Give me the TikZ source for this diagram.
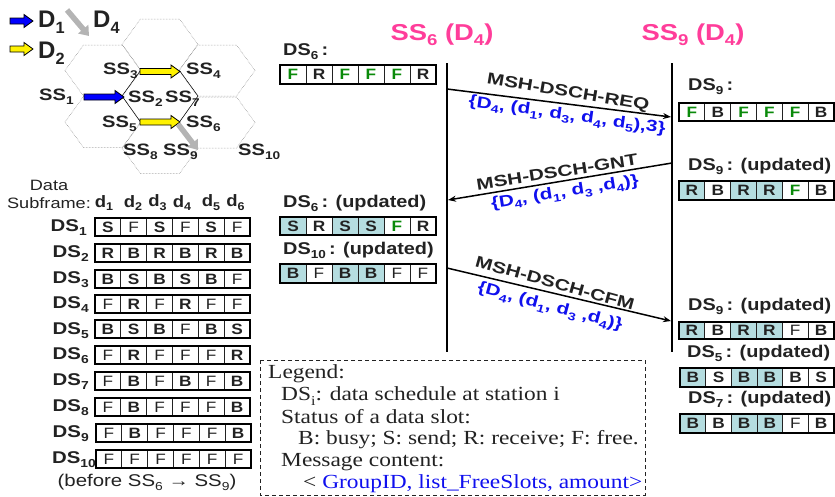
\documentclass[tikz,border=0pt]{standalone}
\usepackage{fontspec}
\setmainfont{Liberation Sans}
\newfontfamily\legendfont{Liberation Serif}
\usetikzlibrary{arrows.meta}
\definecolor{ink}{HTML}{222222}
\definecolor{okgreen}{HTML}{0A8A0A}
\definecolor{hilite}{HTML}{B5DDE0}
\definecolor{pinkhead}{HTML}{FF3D9A}
\definecolor{msgblue}{HTML}{1010EE}
\definecolor{arrowgray}{HTML}{B4B4B4}
\newcommand\dn[1]{\raisebox{-0.45ex}{\scalebox{.68}{#1}}}
\newcommand\fs[1]{\fontsize{#1}{#1}\selectfont}
\newcommand\wcell{\scalebox{1.15}[1]}
\newcommand\wds{\scalebox{1.2}[1]}
\newcommand\wup{\scalebox{1.17}[1]}
\newcommand\wss{\scalebox{1.22}[1]}
\newcommand\wmsg{\scalebox{1.3}[1]}
\newcommand\whead{\scalebox{1.19}[1]}
\newcommand\wcol{\scalebox{1.12}[1]}
\newcommand\wplain{\scalebox{1.21}[1]}
\newcommand\wleg{\scalebox{1.17}[1]}
\tikzset{
  x=1pt,y=-1pt,
  slotbase/.style={draw=ink,line width=.9pt,inner sep=0pt,text=ink},
  slotb/.style={slotbase,font=\fs{15}\bfseries},
  slotn/.style={slotbase,font=\fs{15}},
  slotg/.style={slotbase,font=\fs{15}\bfseries,text=okgreen},
  sloth/.style={slotbase,font=\fs{15}\bfseries,fill=hilite},
  outerbox/.style={draw=black,line width=2.4pt,inner sep=0pt},
  hexline/.style={draw=gray,line width=.5pt,densely dotted},
  hexcore/.style={draw=black,line width=.5pt},
  lifeline/.style={draw=black,line width=2.4pt},
  msg/.style={draw=black,line width=1.5pt,-{Stealth[length=8pt,width=6pt]}},
  msgname/.style={font=\fs{16}\bfseries,text=ink,inner sep=0pt},
  msgdata/.style={font=\fs{16}\bfseries,text=msgblue,inner sep=0pt},
  dslabel/.style={font=\fs{17}\bfseries,text=ink,anchor=west,inner sep=0pt},
  rowlabel/.style={font=\fs{17}\bfseries,text=ink,anchor=east,inner sep=0pt},
  headlabel/.style={font=\fs{23}\bfseries,text=pinkhead,inner sep=0pt},
  sslabel/.style={font=\fs{16.5}\bfseries,text=ink,anchor=west,inner sep=0pt},
  collabel/.style={font=\fs{16.5}\bfseries,text=ink,inner sep=0pt},
  plainlabel/.style={font=\fs{15},text=ink,inner sep=0pt},
  keylabel/.style={font=\fs{24}\bfseries,text=ink,anchor=west,inner sep=0pt},
  legendline/.style={font=\legendfont\fs{20},text=ink,anchor=west,inner sep=0pt},
  graybar/.style={draw=arrowgray,line width=5.5pt,-{Triangle[length=9pt,width=13pt]}},
}
% name, x1, y1, x2, y2, cells
\newcommand\slotrow[6]{%
  \pgfmathsetmacro\cw{(#4-#2)/6}%
  \pgfmathsetmacro\ch{#5-#3}%
  \pgfmathsetmacro\cy{(#3+#5)/2}%
  \foreach \t/\k [count=\i] in {#6}{%
    \pgfmathsetmacro\cx{#2+(\i-.5)*\cw}%
    \node[slot\k,minimum width=\cw pt,minimum height=\ch pt] (#1c\i) at (\cx,\cy) {\wcell{\t}};
  }%
  \pgfmathsetmacro\cxm{(#2+#4)/2}%
  \pgfmathsetmacro\bw{#4-#2}%
  \node[outerbox,minimum width=\bw pt,minimum height=\ch pt] (#1) at (\cxm,\cy) {};
}
% name, x1, x2, y, colour
\newcommand\blockarrow[5]{%
  \pgfmathsetmacro\hx{#3-9}%
  \coordinate (#1) at (#2,#4);
  \draw[black,line width=.8pt,fill=#5] (#1) ++(0,-3) -- (\hx,#4-3) -- (\hx,#4-6.5) -- (#3,#4) -- (\hx,#4+6.5) -- (\hx,#4+3) -- (#2,#4+3) -- cycle;
}
\begin{document}
\begin{tikzpicture}
\useasboundingbox (0,0) rectangle (835,496);
% hexagons
\foreach \n/\cx/\cy in {a/160/44.5,b/103/70.5,c/103/122,d/217/70.5,e/217/122.5,f/160/148}{
  \draw[hexline] (\cx-19.5,\cy-25.5) -- (\cx+19.5,\cy-25.5) -- (\cx+38,\cy) -- (\cx+19.5,\cy+25.5) -- (\cx-19.5,\cy+25.5) -- (\cx-38,\cy) -- cycle;
}
\draw[hexcore] (140.5,70.5) -- (122,96) -- (140.5,122) (179.5,70.5) -- (198,96) -- (179.5,122);
% key arrows
\blockarrow{k1}{10}{33}{21}{blue}
\blockarrow{k2}{10}{33}{49}{yellow}
\coordinate (k3a) at (67,10);
\coordinate (k3b) at (89,36);
\draw[graybar] (k3a) -- (k3b);
\node[keylabel] (kd1) at (38,22) {D\dn{1}};
\node[keylabel] (kd4) at (93,22) {D\dn{4}};
\node[keylabel] (kd2) at (38,53) {D\dn{2}};
% hex arrows
\blockarrow{h1}{84}{124}{97}{blue}
\blockarrow{h2}{140}{180}{71.5}{yellow}
\blockarrow{h3}{140}{180}{122}{yellow}
\coordinate (h4a) at (178,124);
\coordinate (h4b) at (198,150);
\draw[graybar] (h4a) -- (h4b);
% station labels
\node[sslabel] (s3) at (103,71) {\wss{SS\dn{3}}};
\node[sslabel] (s4) at (186,71) {\wss{SS\dn{4}}};
\node[sslabel] (s1) at (39,97) {\wss{SS\dn{1}}};
\node[sslabel] (s2) at (128,99) {\wss{SS\dn{2}}};
\node[sslabel] (s7) at (165,99) {\wss{SS\dn{7}}};
\node[sslabel] (s5) at (102,124) {\wss{SS\dn{5}}};
\node[sslabel] (s6) at (186,124) {\wss{SS\dn{6}}};
\node[sslabel] (s8) at (123,152) {\wss{SS\dn{8}}};
\node[sslabel] (s9) at (163,152) {\wss{SS\dn{9}}};
\node[sslabel] (s10) at (238,152) {\wss{SS\dn{10}}};
% column header
\node[plainlabel] (data) at (49,185) {\wplain{Data}};
\node[plainlabel] (subf) at (49,203) {\wplain{Subframe:}};
\node[collabel] (d1) at (104,203) {\wcol{d\dn{1}}};
\node[collabel] (d2) at (133,203) {\wcol{d\dn{2}}};
\node[collabel] (d3) at (157.5,203) {\wcol{d\dn{3}}};
\node[collabel] (d4) at (182,203) {\wcol{d\dn{4}}};
\node[collabel] (d5) at (211,203) {\wcol{d\dn{5}}};
\node[collabel] (d6) at (235.5,203) {\wcol{d\dn{6}}};
% left tables
\slotrow{t1}{95}{218}{250}{236}{S/b,F/n,S/b,F/n,S/b,F/n}
\slotrow{t2}{95}{244}{250}{262}{R/b,B/b,R/b,B/b,R/b,B/b}
\slotrow{t3}{95}{270}{250}{288}{B/b,S/b,B/b,S/b,B/b,F/n}
\slotrow{t4}{95}{295}{250}{313}{F/n,R/b,F/n,R/b,F/n,F/n}
\slotrow{t5}{95}{320}{250}{338}{B/b,S/b,B/b,F/n,B/b,S/b}
\slotrow{t6}{95}{346}{250}{364}{F/n,R/b,F/n,F/n,F/n,R/b}
\slotrow{t7}{95}{372}{250}{390}{F/n,B/b,F/n,B/b,F/n,B/b}
\slotrow{t8}{95}{398}{250}{416}{F/n,B/b,F/n,F/n,F/n,B/b}
\slotrow{t9}{96}{424}{251}{442}{F/n,B/b,F/n,F/n,F/n,B/b}
\slotrow{t10}{96}{450}{251}{468}{F/n,F/n,F/n,F/n,F/n,F/n}
\node[rowlabel] (l1) at (87,228) {\wds{DS\dn{1}}};
\node[rowlabel] (l2) at (89,254) {\wds{DS\dn{2}}};
\node[rowlabel] (l3) at (89,280) {\wds{DS\dn{3}}};
\node[rowlabel] (l4) at (89,305) {\wds{DS\dn{4}}};
\node[rowlabel] (l5) at (89,331) {\wds{DS\dn{5}}};
\node[rowlabel] (l6) at (89,356) {\wds{DS\dn{6}}};
\node[rowlabel] (l7) at (89,382) {\wds{DS\dn{7}}};
\node[rowlabel] (l8) at (89,408) {\wds{DS\dn{8}}};
\node[rowlabel] (l9) at (89,434) {\wds{DS\dn{9}}};
\node[rowlabel] (l10) at (96,460) {\wds{DS\dn{10}}};
\node[plainlabel,font=\fs{17}] (before) at (147,482) {\wds{(before SS\dn{6} → SS\dn{9})}};
% headers
\node[headlabel] (h6) at (442,35) {\whead{SS\dn{6} (D\dn{4})}};
\node[headlabel] (h9) at (693,35) {\whead{SS\dn{9} (D\dn{4})}};
% lifelines
\coordinate (a1) at (447,63);
\coordinate (a2) at (447,352);
\coordinate (b1) at (672,63);
\coordinate (b2) at (672,352);
\draw[lifeline] (a1) -- (a2);
\draw[lifeline] (b1) -- (b2);
% messages
\coordinate (reqa) at (447,89);
\coordinate (reqb) at (671,117);
\coordinate (gnta) at (672,163);
\coordinate (gntb) at (448,200);
\coordinate (cfma) at (447,268);
\coordinate (cfmb) at (671,321);
\draw[msg] (reqa) -- (reqb);
\draw[msg] (gnta) -- (gntb);
\draw[msg] (cfma) -- (cfmb);
\node[msgname,rotate=-9.5] (m1) at (568,93) {\wmsg{MSH-DSCH-REQ}};
\node[msgdata,rotate=-8] (m1d) at (567,116) {\wmsg{\{D\dn{4}, (d\dn{1}, d\dn{3}, d\dn{4}, d\dn{5}),3\}}};
\node[msgname,rotate=9] (m2) at (557,172) {\wmsg{MSH-DSCH-GNT}};
\node[msgdata,rotate=9] (m2d) at (565,193) {\wmsg{\{D\dn{4}, (d\dn{1}, d\dn{3} ,d\dn{4})\}}};
\node[msgname,rotate=-15.5] (m3) at (555,283) {\wmsg{MSH-DSCH-CFM}};
\node[msgdata,rotate=-15] (m3d) at (550,307) {\wmsg{\{D\dn{4}, (d\dn{1}, d\dn{3} ,d\dn{4})\}}};
% SS6 side tables
\node[dslabel] (q1) at (283,52) {\wup{DS\dn{6}\,:}};
\slotrow{u1}{280}{65}{436}{84}{F/g,R/b,F/g,F/g,F/g,R/b}
\node[dslabel] (q2) at (283,203) {\wup{DS\dn{6}\,: (updated)}};
\slotrow{u2}{280}{217}{436}{235}{S/h,R/b,S/h,S/h,F/g,R/b}
\node[dslabel] (q3) at (283,250) {\wup{DS\dn{10}\,: (updated)}};
\slotrow{u3}{280}{264}{436}{283}{B/h,F/n,B/h,B/h,F/n,F/n}
% SS9 side tables
\node[dslabel] (r1) at (688,87) {\wup{DS\dn{9}\,:}};
\slotrow{v1}{679}{103}{834}{121}{F/g,B/b,F/g,F/g,F/g,B/b}
\node[dslabel] (r2) at (688,166) {\wup{DS\dn{9}\,: (updated)}};
\slotrow{v2}{679}{181}{834}{200}{R/h,B/b,R/h,R/h,F/g,B/b}
\node[dslabel] (r3) at (688,306) {\wup{DS\dn{9}\,: (updated)}};
\slotrow{v3}{679}{322}{834}{339}{R/h,B/b,R/h,R/h,F/n,B/b}
\node[dslabel] (r4) at (687,353) {\wup{DS\dn{5}\,: (updated)}};
\slotrow{v4}{680}{368}{834}{387}{B/h,S/b,B/h,B/h,B/b,S/b}
\node[dslabel] (r5) at (688,399) {\wup{DS\dn{7}\,: (updated)}};
\slotrow{v5}{680}{414}{834}{433}{B/h,B/b,B/h,B/h,F/n,B/b}
% legend
\draw[draw=ink,line width=.7pt,dash pattern=on 4pt off 3pt] (260,360) rectangle (645,495);
\node[legendline] (g1) at (268,374) {\wleg{Legend:}};
\node[legendline] (g2) at (281,396) {\wleg{DS\dn{i}: data schedule at station i}};
\node[legendline] (g3) at (281,417) {\wleg{Status of a data slot:}};
\node[legendline] (g4) at (298,440) {\wleg{B: busy; S: send; R: receive; F: free.}};
\node[legendline] (g5) at (281,462) {\wleg{Message content:}};
\node[legendline] (g6) at (303,484) {\wleg{< \textcolor{msgblue}{GroupID, list\_FreeSlots, amount>}}};
\end{tikzpicture}
\end{document}
